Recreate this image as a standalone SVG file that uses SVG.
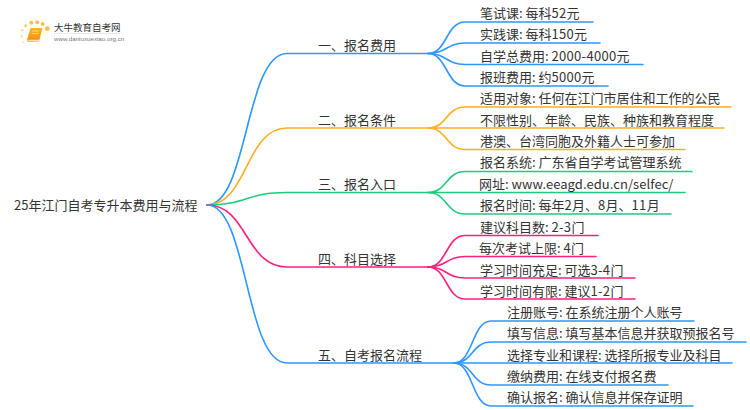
<svg xmlns="http://www.w3.org/2000/svg" width="750" height="410" viewBox="0 0 750 410">
<style>
text{font-family:"Noto Sans CJK SC","Noto Sans",sans-serif;fill:#333;font-size:13px}
.d{letter-spacing:.3px}
.c path{fill:none;stroke-width:1.6;stroke-linecap:round}
.b{stroke:#2e96ff}.o{stroke:#ffae1f}.g{stroke:#1fca7d}.p{stroke:#ff1f7d}
</style>
<defs><linearGradient id="bk" x1="0" y1="0" x2="0" y2="1"><stop offset="0" stop-color="#fbb52e"/><stop offset="1" stop-color="#f28a12"/></linearGradient></defs>
<rect width="750" height="410" fill="#fff"/>
<g id="connectors" class="c">
<path class="b" d="M207 205C248 205 245 53.500 287 53.500H428"/>
<path class="o" d="M207 205C248 205 245 128 287 128H428"/>
<path class="g" d="M207 205C248 205 245 192.500 287 192.500H428"/>
<path class="p" d="M207 205C248 205 245 267 287 267H428"/>
<path class="b" d="M207 205C248 205 245 363 287 363H454"/>
<path class="b" d="M428 53.500C447 53.500 446 22 465 22H593"/>
<path class="b" d="M428 53.500C447 53.500 446 43 465 43H600"/>
<path class="b" d="M428 53.500C447 53.500 446 64.500 465 64.500H643"/>
<path class="b" d="M428 53.500C447 53.500 446 86 465 86H608"/>
<path class="o" d="M428 128C447 128 446 107 465 107H731"/>
<path class="o" d="M428 128H724"/>
<path class="o" d="M428 128C447 128 446 149.500 465 149.500H685"/>
<path class="g" d="M428 192.500C447 192.500 446 171.500 465 171.500H692"/>
<path class="g" d="M428 192.500H685"/>
<path class="g" d="M428 192.500C447 192.500 446 214 465 214H671"/>
<path class="p" d="M428 267C447 267 446 235.500 465 235.500H598"/>
<path class="p" d="M428 267C447 267 446 256.500 465 256.500H596"/>
<path class="p" d="M428 267C447 267 446 278 465 278H635"/>
<path class="p" d="M428 267C447 267 446 299 465 299H635"/>
<path class="b" d="M454 363C473 363 472 321 491 321H694"/>
<path class="b" d="M454 363C473 363 472 342 491 342H746"/>
<path class="b" d="M454 363H732"/>
<path class="b" d="M454 363C473 363 472 385 491 385H668"/>
<path class="b" d="M454 363C473 363 472 406 491 406H693"/>
</g>
<g id="logo">
<g fill="#fbc04a"><circle cx="47.300" cy="28.700" r="2.400"/><circle cx="42.700" cy="24" r="2"/><circle cx="37.300" cy="22.300" r="2"/><circle cx="31.300" cy="22.700" r="2"/><circle cx="25.700" cy="25.700" r="1.500" opacity=".8"/><circle cx="22.300" cy="30.300" r="1.300" opacity=".6"/><circle cx="21.700" cy="36.300" r="1.200" opacity=".5"/><circle cx="23.300" cy="42.300" r="1" opacity=".4"/></g>
<path d="M30.500 28H42.500L39 41.500L28 42L27 40Z" fill="url(#bk)"/><path d="M28 39.800H39.500L39 41.500H28.500Z" fill="#fde3b5"/><path d="M32 31H39M31.500 33.500H38.500" stroke="#fde3b5" stroke-width=".7"/>
<text x="54" y="31" style="font-size:9.500px">大牛教育自考网</text>
<path d="M54 33.400H120" stroke="#ddd" stroke-width=".7"/>
<text x="54" y="40.700" style="font-size:6.200px;fill:#777;font-family:'Liberation Sans',sans-serif">www.daniuxuexiao.org.cn</text>
</g>
<g id="root"><text x="14" y="210">25年江门自考专升本费用与流程</text></g>
<g id="n1"><text x="318" y="50">一、报名费用</text></g>
<g id="n2"><text x="318" y="125">二、报名条件</text></g>
<g id="n3"><text x="318" y="189">三、报名入口</text></g>
<g id="n4"><text x="318" y="264">四、科目选择</text></g>
<g id="n5"><text x="318" y="360">五、自考报名流程</text></g>
<g id="n1-1"><text x="480" y="18">笔试课: 每科<tspan class="d">52</tspan>元</text></g>
<g id="n1-2"><text x="480" y="39">实践课: 每科<tspan class="d">150</tspan>元</text></g>
<g id="n1-3"><text x="480" y="61">自学总费用: <tspan class="d">2000-4000</tspan>元</text></g>
<g id="n1-4"><text x="480" y="82">报班费用: 约<tspan class="d">5000</tspan>元</text></g>
<g id="n2-1"><text x="480" y="103">适用对象: 任何在江门市居住和工作的公民</text></g>
<g id="n2-2"><text x="480" y="125">不限性别、年龄、民族、种族和教育程度</text></g>
<g id="n2-3"><text x="480" y="146">港澳、台湾同胞及外籍人士可参加</text></g>
<g id="n3-1"><text x="480" y="167">报名系统: 广东省自学考试管理系统</text></g>
<g id="n3-2"><text x="479" y="189">网址: <tspan style="letter-spacing:.06px">www.eeagd.edu.cn/selfec/</tspan></text></g>
<g id="n3-3"><text x="480" y="210">报名时间: 每年<tspan class="d">2</tspan>月、<tspan class="d">8</tspan>月、<tspan class="d">11</tspan>月</text></g>
<g id="n4-1"><text x="480" y="232">建议科目数: <tspan class="d">2-3</tspan>门</text></g>
<g id="n4-2"><text x="479" y="253">每次考试上限: <tspan class="d">4</tspan>门</text></g>
<g id="n4-3"><text x="480" y="275">学习时间充足: 可选<tspan class="d">3-4</tspan>门</text></g>
<g id="n4-4"><text x="480" y="296">学习时间有限: 建议<tspan class="d">1-2</tspan>门</text></g>
<g id="n5-1"><text x="507" y="317">注册账号: 在系统注册个人账号</text></g>
<g id="n5-2"><text x="507" y="338">填写信息: 填写基本信息并获取预报名号</text></g>
<g id="n5-3"><text x="507" y="360">选择专业和课程: 选择所报专业及科目</text></g>
<g id="n5-4"><text x="507" y="381">缴纳费用: 在线支付报名费</text></g>
<g id="n5-5"><text x="507" y="402">确认报名: 确认信息并保存证明</text></g>
</svg>
